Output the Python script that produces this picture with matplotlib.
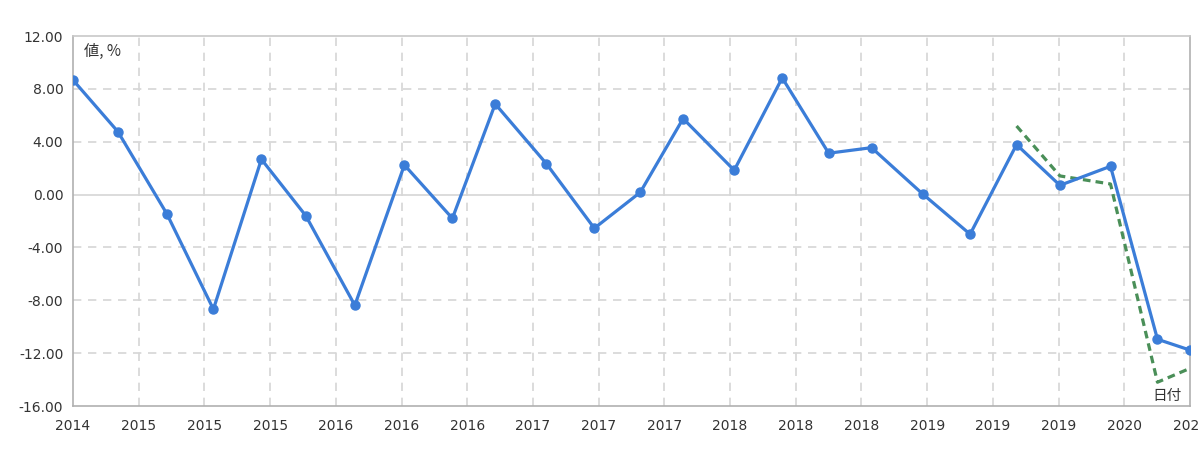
import numpy             as np
import pandas            as pd
import matplotlib
matplotlib.use( 'Agg' )
import matplotlib.pyplot as plt
import matplotlib.dates  as mdates


# data
dates = [ '2014-09-18', '2014-12-14', '2015-03-19', '2015-06-17', '2015-09-18',
          '2015-12-13', '2016-03-17', '2016-06-21', '2016-09-22', '2016-12-14',
          '2017-03-23', '2017-06-24', '2017-09-21', '2017-12-13', '2018-03-22',
          '2018-06-23', '2018-09-21', '2018-12-13', '2019-03-22', '2019-06-22',
          '2019-09-20', '2019-12-13', '2020-03-20', '2020-06-19', '2020-08-21' ]

values = [ 8.67, 4.76, -1.47, -8.68, 2.67, -1.60, -8.38, 2.24, -1.80, 6.86,
           2.34, -2.55, 0.17, 5.75, 1.84, 8.83, 3.13, 3.55, 0.05, -3.00,
           3.78, 0.70, 2.14, -10.95, -11.77 ]

# dashed series (last part only)
dash_dates  = [ '2019-09-20', '2019-12-13', '2020-03-20', '2020-06-19', '2020-08-21' ]
dash_values = [ 5.19, 1.41, 0.80, -14.2, -13.15 ]

xtick_labels = [ '2014', '2015', '2015', '2015', '2016', '2016', '2016', '2017', '2017',
                 '2017', '2018', '2018', '2018', '2019', '2019', '2019', '2020', '2020' ]
yticks = [ -16, -12, -8, -4, 0, 4, 8, 12 ]

x      = pd.to_datetime( dates )
x_dash = pd.to_datetime( dash_dates )

plt.rcParams['font.family'] = [ 'DejaVu Sans', 'Noto Sans CJK JP' ]

fig = plt.figure( figsize=(12, 4.51), dpi=100 )
ax  = fig.add_axes( [ 73/1200, 1 - 406/451, (1190 - 73)/1200, (406 - 36)/451 ] )

grid_c = '#d6d6d6'

ax.plot( x_dash, dash_values, color='#4a8f58', lw=2.3, ls=(0, (2.4, 1.6)), zorder=3 )
ax.plot( x, values, color='#3b7dd8', lw=2.3, marker='o', ms=6.5, zorder=4 )

# axes limits and ticks
x_lo = mdates.date2num( x[0] )
x_hi = mdates.date2num( x[-1] )
ax.set_xlim( x_lo, x_hi )
ax.set_ylim( -16, 12 )

xt = np.linspace( x_lo, x_hi, len(xtick_labels) )
ax.set_xticks( xt )
ax.set_xticklabels( xtick_labels )
ax.set_yticks( yticks )
ax.set_yticklabels( [ '%.2f' % v for v in yticks ] )
ax.tick_params( length=0, labelsize=10, colors='#333333' )
ax.tick_params( axis='x', pad=9 )
ax.tick_params( axis='y', pad=7 )

# grid
for v in yticks[1:-1]:
    if v == 0:
        ax.axhline( v, color=grid_c, lw=1.2, zorder=1 )
    else:
        ax.axhline( v, color=grid_c, lw=1.2, ls=(0, (5, 4)), zorder=1 )
for t in xt[1:-1]:
    ax.axvline( t, color=grid_c, lw=1.2, ls=(0, (5, 4)), zorder=1 )

for s in [ 'left', 'bottom', 'right' ]:
    ax.spines[s].set_color( '#b0b0b0' )
    ax.spines[s].set_linewidth( 1.2 )
ax.spines['top'].set_color( '#c8c8c8' )
ax.spines['top'].set_linewidth( 1.2 )

# axis titles inside the plot
ax.text( 0.01, 0.98, '値, %', transform=ax.transAxes, ha='left', va='top',
         fontsize=11, color='#333333', family=[ 'Noto Sans CJK JP', 'DejaVu Sans' ] )
ax.text( 0.9925, 0.008, '日付', transform=ax.transAxes, ha='right', va='bottom',
         fontsize=10.5, color='#333333', family=[ 'Noto Sans CJK JP', 'DejaVu Sans' ] )

fig.savefig( 'out.png', dpi=100 )
